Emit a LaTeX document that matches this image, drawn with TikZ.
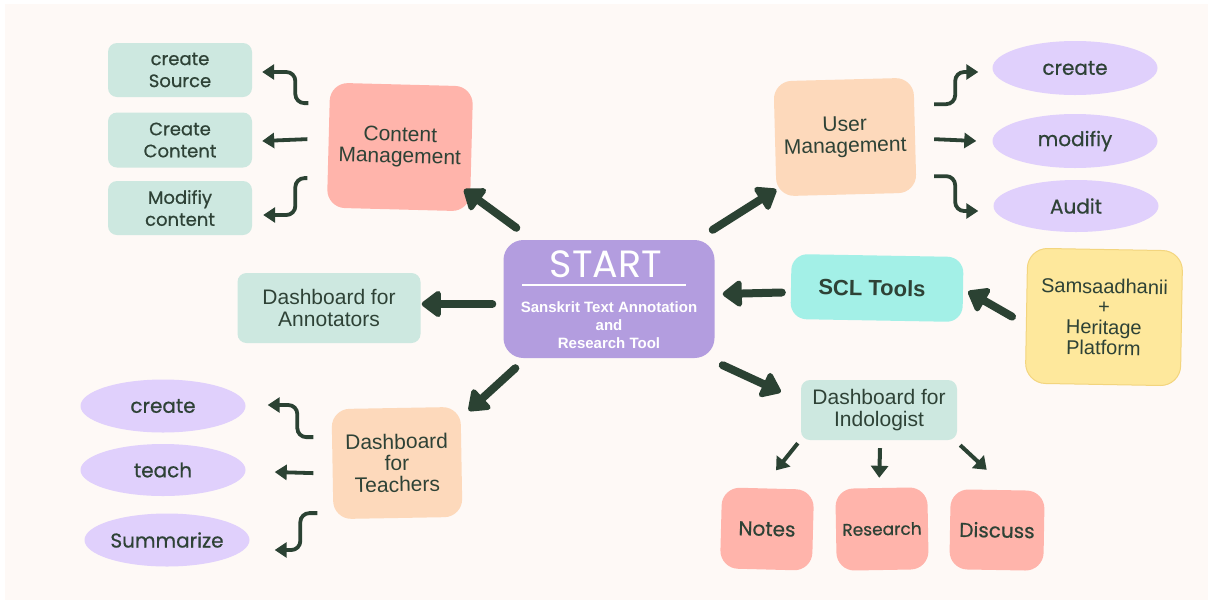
\documentclass[tikz,border=0pt]{standalone}
\usepackage{fontspec}
\setmainfont{Liberation Sans}
\newfontfamily\handfont{Poppins}[FakeBold=0.6]
\newfontfamily\titlefont{Poppins}
\usetikzlibrary{arrows.meta,shapes.geometric}

\definecolor{paper}{HTML}{FEF9F6}
\definecolor{ink}{HTML}{2E4236}
\definecolor{arrowc}{HTML}{2B4233}
\definecolor{mint}{HTML}{CDE8E0}
\definecolor{salmon}{HTML}{FFB4AB}
\definecolor{peach}{HTML}{FDD9BB}
\definecolor{lavender}{HTML}{E0D0FC}
\definecolor{violet}{HTML}{B39DDF}
\definecolor{aqua}{HTML}{A3F0E7}
\definecolor{butter}{HTML}{FEE89C}
\definecolor{butterline}{HTML}{F3D57E}

\tikzset{
  card/.style={rounded corners=9pt, inner sep=0pt, align=center, text=ink},
  mintcard/.style={card, fill=mint},
  blob/.style={card, rounded corners=18pt},
  oval/.style={ellipse, fill=lavender, inner sep=0pt, minimum width=165pt,
    minimum height=54pt, text=ink, font=\handfont\fontsize{20}{22}\selectfont},
  plain/.style={font=\fontsize{21}{21.5}\selectfont},
  hand/.style={font=\handfont\fontsize{18}{22}\selectfont},
  bigarrow/.style={draw=arrowc, line width=8pt, line cap=round,
    -{Triangle[length=21pt,width=30pt,round]}},
  midarrow/.style={draw=arrowc, line width=4pt,
    -{Triangle[length=12pt,width=17pt]}},
  elbow/.style={draw=arrowc, line width=3.8pt, rounded corners=9pt,
    -{Triangle[length=12pt,width=15pt]}}
}

\begin{document}
\begin{tikzpicture}[x=1pt,y=-1pt]
  % canvas
  \useasboundingbox (0,0) rectangle (1212,603);
  \fill[white] (0,0) rectangle (1212,603);
  \fill[paper] (5,4) rectangle (1208,600);

  % ---------- centre ----------
  \node[card, fill=violet, rounded corners=20pt, minimum width=211pt, minimum height=118pt] (start) at (609,299) {};
  \node[text=white, font=\titlefont\fontsize{38}{40}\selectfont] (starttitle) at (606,264) {START};
  \draw[white, line width=2pt] (522,285) -- (686,285);
  \node[text=white, align=center, font=\bfseries\fontsize{15}{18}\selectfont] (startsub) at (609,325)
    {Sanskrit Text Annotation\\and\\Research Tool};

  % ---------- content management ----------
  \node[blob, fill=salmon, minimum width=143pt, minimum height=125pt, rotate=-1.5, plain] (cm) at (400,147) {Content\\Management};
  \node[mintcard, minimum width=144pt, minimum height=54pt, hand] (csrc) at (180,70) {create\\Source};
  \node[mintcard, minimum width=144pt, minimum height=55pt, hand] (ccont) at (180,140) {Create\\Content};
  \node[mintcard, minimum width=144pt, minimum height=54pt, hand] (cmod) at (180,208) {Modifiy\\content};

  \draw[elbow] ([shift={(-20,-42)}]cm.west) -- ++(-13,0) |- ([shift={(10,2)}]csrc.east);
  \draw[elbow] ([shift={(-21,-6)}]cm.west) -- ([shift={(10,1)}]ccont.east);
  \draw[elbow] ([shift={(-21,33)}]cm.west) -- ++(-12,0) |- ([shift={(11,7)}]cmod.east);
  \draw[bigarrow] ([shift={(13,-12)}]start.north west) -- ([shift={(-6,-22)}]cm.south east);

  % ---------- user management ----------
  \node[blob, fill=peach, minimum width=140pt, minimum height=115pt, rotate=1.5, plain] (um) at (845,137) {User\\Management};
  \node[oval] (ucreate) at (1075,68) {create};
  \node[oval] (umodify) at (1075,141) {modifiy};
  \node[oval, minimum height=52pt] (uaudit) at (1076,206) {Audit};

  \draw[elbow] ([shift={(19,-31)}]um.east) -- ++(21,0) |- ([shift={(-14,4)}]ucreate.west);
  \draw[elbow] ([shift={(19,4)}]um.east) -- ([shift={(-16,0)}]umodify.west);
  \draw[elbow] ([shift={(19,41)}]um.east) -- ++(21,0) |- ([shift={(-15,5)}]uaudit.west);
  \draw[bigarrow] ([shift={(-2,-10)}]start.north east) -- ([shift={(0,-7)}]um.south west);

  % ---------- annotators ----------
  \node[mintcard, minimum width=183pt, minimum height=70pt, plain] (dfa) at (329,308) {Dashboard for\\Annotators};
  \draw[bigarrow] ([shift={(-11,5)}]start.west) -- ([shift={(1,-4)}]dfa.east);

  % ---------- SCL tools ----------
  \node[card, fill=aqua, rounded corners=16pt, minimum width=172pt, minimum height=65pt, rotate=-1,
        font=\bfseries\fontsize{22}{22}\selectfont] (scl) at (877,288) {SCL Tools\hspace*{10pt}};
  \node[card, fill=butter, draw=butterline, line width=1pt, rounded corners=20pt,
        minimum width=155pt, minimum height=135pt, rotate=-1,
        font=\fontsize{20}{20.5}\selectfont] (sam) at (1104,317) {Samsaadhanii\\+\\Heritage\\Platform};
  \draw[bigarrow] ([shift={(-9,6)}]scl.west) -- ([shift={(8,-5)}]start.east);
  \draw[bigarrow] ([shift={(-14,1)}]sam.west) -- ([shift={(5,2)}]scl.east);

  % ---------- indologist ----------
  \node[mintcard, minimum width=156pt, minimum height=60pt, font=\fontsize{21}{22}\selectfont] (dfi) at (879,410) {Dashboard for\\Indologist};
  \node[blob, fill=salmon, minimum width=92pt, minimum height=81pt, rotate=-1.5,
        font=\handfont\fontsize{20}{22}\selectfont] (notes) at (767,529) {Notes};
  \node[blob, fill=salmon, minimum width=92pt, minimum height=82pt, rotate=1,
        font=\handfont\fontsize{17}{20}\selectfont] (research) at (882,529) {Research};
  \node[blob, fill=salmon, minimum width=94pt, minimum height=80pt, rotate=-1,
        font=\handfont\fontsize{20}{22}\selectfont] (discuss) at (997,530) {Discuss};
  \draw[bigarrow] ([shift={(8,7)}]start.south east) -- ([shift={(-20,-18)}]dfi.west);
  \draw[midarrow] ([shift={(-3,3)}]dfi.south west) -- ([shift={(8,-18)}]notes.north);
  \draw[midarrow] ([shift={(1,8)}]dfi.south) -- ([shift={(-2,-10)}]research.north);
  \draw[midarrow] ([shift={(3,5)}]dfi.south east) -- ([shift={(-11,-20)}]discuss.north);

  % ---------- teachers ----------
  \node[blob, fill=peach, minimum width=129pt, minimum height=110pt, rotate=1, plain] (dft) at (397,463) {Dashboard\\for\\Teachers};
  \node[oval, minimum height=53pt] (tcreate) at (163,406) {create};
  \node[oval, minimum height=52pt] (tteach) at (163,470) {teach};
  \node[oval, minimum height=53pt] (tsum) at (167,540) {Summarize};

  \draw[bigarrow] ([shift={(12,10)}]start.south west) -- ([shift={(8,4)}]dft.north east);
  \draw[elbow] ([shift={(-19,-27)}]dft.west) -- ++(-16,0) |- ([shift={(22,-1)}]tcreate.east);
  \draw[elbow] ([shift={(-19,9)}]dft.west) -- ([shift={(29,2)}]tteach.east);
  \draw[elbow] ([shift={(-15,49)}]dft.west) -- ++(-17,0) |- ([shift={(25,10)}]tsum.east);
\end{tikzpicture}
\end{document}
